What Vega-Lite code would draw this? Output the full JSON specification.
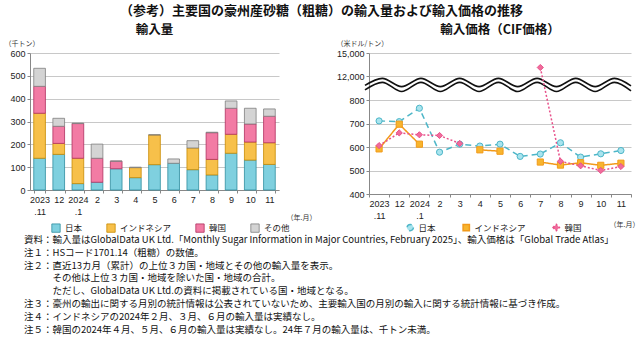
{
  "$schema": "https://vega.github.io/schema/vega-lite/v6.json",
  "background": "white",
  "padding": {"left": 4, "right": 4, "top": 4, "bottom": 0},
  "config": {
    "font": "Noto Sans CJK JP",
    "view": {"stroke": null},
    "axis": {
      "labelFont": "Liberation Sans",
      "labelFontSize": 9,
      "labelColor": "#222222",
      "labelOverlap": false,
      "gridColor": "#c8c8c8",
      "domainColor": "#888888",
      "tickColor": "#888888",
      "tickSize": 3,
      "titleFont": "Noto Sans CJK JP",
      "titleFontSize": 7,
      "titleFontWeight": "normal",
      "titleColor": "#333333"
    },
    "legend": {
      "labelFont": "Noto Sans CJK JP",
      "labelFontSize": 8.5,
      "labelColor": "#222222",
      "orient": "none",
      "direction": "horizontal"
    },
    "title": {"font": "Noto Sans CJK JP", "color": "#111111"}
  },
  "title": {
    "text": "（参考）主要国の豪州産砂糖（粗糖）の輸入量および輸入価格の推移",
    "fontSize": 13,
    "fontWeight": "bold",
    "anchor": "middle",
    "offset": 6
  },
  "datasets": {
    "vol": [
      {"m": "2023.11", "c": "日本", "v": 139}, {"m": "2023.11", "c": "インドネシア", "v": 197}, {"m": "2023.11", "c": "韓国", "v": 118}, {"m": "2023.11", "c": "その他", "v": 79},
      {"m": "12", "c": "日本", "v": 156}, {"m": "12", "c": "インドネシア", "v": 48}, {"m": "12", "c": "韓国", "v": 75}, {"m": "12", "c": "その他", "v": 35},
      {"m": "2024.1", "c": "日本", "v": 28}, {"m": "2024.1", "c": "インドネシア", "v": 111}, {"m": "2024.1", "c": "韓国", "v": 152}, {"m": "2024.1", "c": "その他", "v": 2},
      {"m": "2", "c": "日本", "v": 34}, {"m": "2", "c": "韓国", "v": 105}, {"m": "2", "c": "その他", "v": 62},
      {"m": "3", "c": "日本", "v": 93}, {"m": "3", "c": "韓国", "v": 33}, {"m": "3", "c": "その他", "v": 1},
      {"m": "4", "c": "日本", "v": 54}, {"m": "4", "c": "インドネシア", "v": 44}, {"m": "4", "c": "その他", "v": 2},
      {"m": "5", "c": "日本", "v": 111}, {"m": "5", "c": "インドネシア", "v": 130}, {"m": "5", "c": "その他", "v": 1},
      {"m": "6", "c": "日本", "v": 117}, {"m": "6", "c": "その他", "v": 19},
      {"m": "7", "c": "日本", "v": 89}, {"m": "7", "c": "インドネシア", "v": 95}, {"m": "7", "c": "その他", "v": 32},
      {"m": "8", "c": "日本", "v": 66}, {"m": "8", "c": "インドネシア", "v": 68}, {"m": "8", "c": "韓国", "v": 117}, {"m": "8", "c": "その他", "v": 2},
      {"m": "9", "c": "日本", "v": 161}, {"m": "9", "c": "インドネシア", "v": 83}, {"m": "9", "c": "韓国", "v": 114}, {"m": "9", "c": "その他", "v": 32},
      {"m": "10", "c": "日本", "v": 131}, {"m": "10", "c": "インドネシア", "v": 79}, {"m": "10", "c": "韓国", "v": 79}, {"m": "10", "c": "その他", "v": 69},
      {"m": "11", "c": "日本", "v": 112}, {"m": "11", "c": "インドネシア", "v": 95}, {"m": "11", "c": "韓国", "v": 116}, {"m": "11", "c": "その他", "v": 32}
    ],
    "price": [
      {"m": "2023.11", "c": "日本", "p": 711}, {"m": "12", "c": "日本", "p": 708}, {"m": "2024.1", "c": "日本", "p": 765}, {"m": "2", "c": "日本", "p": 578}, {"m": "3", "c": "日本", "p": 612}, {"m": "4", "c": "日本", "p": 604}, {"m": "5", "c": "日本", "p": 612}, {"m": "6", "c": "日本", "p": 560}, {"m": "7", "c": "日本", "p": 570}, {"m": "8", "c": "日本", "p": 618}, {"m": "9", "c": "日本", "p": 557}, {"m": "10", "c": "日本", "p": 571}, {"m": "11", "c": "日本", "p": 585},
      {"m": "2023.11", "c": "インドネシア", "p": 592}, {"m": "12", "c": "インドネシア", "p": 697}, {"m": "2024.1", "c": "インドネシア", "p": 612}, {"m": "2", "c": "インドネシア", "p": null}, {"m": "3", "c": "インドネシア", "p": null}, {"m": "4", "c": "インドネシア", "p": 588}, {"m": "5", "c": "インドネシア", "p": 582}, {"m": "6", "c": "インドネシア", "p": null}, {"m": "7", "c": "インドネシア", "p": 536}, {"m": "8", "c": "インドネシア", "p": 523}, {"m": "9", "c": "インドネシア", "p": 533}, {"m": "10", "c": "インドネシア", "p": 522}, {"m": "11", "c": "インドネシア", "p": 531},
      {"m": "2023.11", "c": "韓国", "p": 606}, {"m": "12", "c": "韓国", "p": 660}, {"m": "2024.1", "c": "韓国", "p": 652}, {"m": "2", "c": "韓国", "p": 649}, {"m": "3", "c": "韓国", "p": 615}, {"m": "4", "c": "韓国", "p": null}, {"m": "5", "c": "韓国", "p": null}, {"m": "6", "c": "韓国", "p": null}, {"m": "7", "c": "韓国", "p": 13150}, {"m": "8", "c": "韓国", "p": 539}, {"m": "9", "c": "韓国", "p": 520}, {"m": "10", "c": "韓国", "p": 500}, {"m": "11", "c": "韓国", "p": 517}
    ],
    "wave": [
      {"wl": "upper", "wx": -0.2, "wy": 862}, {"wl": "upper", "wx": 0.66, "wy": 892}, {"wl": "upper", "wx": 1.62, "wy": 857}, {"wl": "upper", "wx": 2.58, "wy": 892}, {"wl": "upper", "wx": 3.54, "wy": 857}, {"wl": "upper", "wx": 4.5, "wy": 892}, {"wl": "upper", "wx": 5.46, "wy": 857}, {"wl": "upper", "wx": 6.42, "wy": 892}, {"wl": "upper", "wx": 7.38, "wy": 857}, {"wl": "upper", "wx": 8.34, "wy": 892}, {"wl": "upper", "wx": 9.3, "wy": 857}, {"wl": "upper", "wx": 10.26, "wy": 892}, {"wl": "upper", "wx": 11.22, "wy": 857}, {"wl": "upper", "wx": 12.18, "wy": 892}, {"wl": "upper", "wx": 13.0, "wy": 860},
      {"wl": "lower", "wx": -0.2, "wy": 843}, {"wl": "lower", "wx": 0.66, "wy": 875}, {"wl": "lower", "wx": 1.62, "wy": 836}, {"wl": "lower", "wx": 2.58, "wy": 875}, {"wl": "lower", "wx": 3.54, "wy": 836}, {"wl": "lower", "wx": 4.5, "wy": 875}, {"wl": "lower", "wx": 5.46, "wy": 836}, {"wl": "lower", "wx": 6.42, "wy": 875}, {"wl": "lower", "wx": 7.38, "wy": 836}, {"wl": "lower", "wx": 8.34, "wy": 875}, {"wl": "lower", "wx": 9.3, "wy": 836}, {"wl": "lower", "wx": 10.26, "wy": 875}, {"wl": "lower", "wx": 11.22, "wy": 836}, {"wl": "lower", "wx": 12.18, "wy": 875}, {"wl": "lower", "wx": 13.0, "wy": 839}
    ]
  },
  "vconcat": [
    {
      "title": {
        "text": [
          "資料：輸入量はGlobalData UK Ltd.「Monthly Sugar Information in Major Countries, February 2025」、輸入価格は「Global Trade Atlas」",
          "注１：HSコード1701.14（粗糖）の数値。",
          "注２：直近13カ月（累計）の上位３カ国・地域とその他の輸入量を表示。",
          "\u200b\u3000\u3000\u3000その他は上位３カ国・地域を除いた国・地域の合計。",
          "\u200b\u3000\u3000\u3000ただし、GlobalData UK Ltd.の資料に掲載されている国・地域となる。",
          "注３：豪州の輸出に関する月別の統計情報は公表されていないため、主要輸入国の月別の輸入に関する統計情報に基づき作成。",
          "注４：インドネシアの2024年２月、３月、６月の輸入量は実績なし。",
          "注５：韓国の2024年４月、５月、６月の輸入量は実績なし。24年７月の輸入量は、千トン未満。"
        ],
        "orient": "bottom",
        "anchor": "start",
        "fontSize": 9.5,
        "lineHeight": 12.8,
        "fontWeight": "normal",
        "color": "#111111",
        "dx": 20,
        "offset": 1
      },
      "spacing": 20,
      "resolve": {
        "scale": {"fill": "independent", "stroke": "independent", "shape": "independent", "strokeDash": "independent"},
        "legend": {"fill": "independent", "stroke": "independent", "shape": "independent", "strokeDash": "independent"}
      },
      "hconcat": [
        {
          "width": 249,
          "height": 137,
          "title": {"text": "輸入量", "fontSize": 12.5, "fontWeight": "bold", "offset": 3},
          "data": {"name": "vol"},
          "transform": [{"calculate": "indexof(['日本','インドネシア','韓国','その他'], datum.c)", "as": "o"}],
          "mark": {"type": "bar", "strokeWidth": 0.8},
          "encoding": {
            "x": {
              "field": "m", "type": "ordinal", "sort": null,
              "scale": {"paddingInner": 0.39, "paddingOuter": 0.195},
              "axis": {
                "title": "（年.月）", "labelAngle": 0, "tickBand": "extent", "grid": false,
                "labelExpr": "datum.value == '2023.11' ? ['2023', '.11'] : datum.value == '2024.1' ? ['2024', '.1'] : datum.value",
                "labelLineHeight": 12, "labelPadding": 2,
                "titleX": 256, "titleY": 27, "titleAlign": "left", "titleBaseline": "middle"
              }
            },
            "y": {
              "field": "v", "type": "quantitative", "stack": "zero",
              "scale": {"domain": [0, 600]},
              "axis": {
                "values": [0, 100, 200, 300, 400, 500, 600],
                "title": "（千トン）", "titleAngle": 0, "titleX": -26, "titleY": -10, "titleAlign": "left", "titleBaseline": "middle"
              }
            },
            "fill": {
              "field": "c", "type": "nominal",
              "scale": {"domain": ["日本", "インドネシア", "韓国", "その他"], "range": ["#7fd0df", "#f7c04a", "#f27ba4", "#d4d4d4"]},
              "legend": {"title": null, "symbolType": "square", "symbolSize": 70, "symbolStrokeWidth": 0.8, "legendX": 21, "legendY": 170, "columnPadding": 22}
            },
            "stroke": {
              "field": "c", "type": "nominal",
              "scale": {"domain": ["日本", "インドネシア", "韓国", "その他"], "range": ["#2f8ea0", "#c88a00", "#b03060", "#7f7f7f"]},
              "legend": {"title": null, "symbolType": "square", "symbolSize": 70, "symbolStrokeWidth": 0.8, "legendX": 21, "legendY": 170, "columnPadding": 22}
            },
            "order": {"field": "o", "type": "quantitative"}
          }
        },
        {
          "width": 262,
          "height": 141,
          "title": {"text": "輸入価格（CIF価格）", "fontSize": 12.5, "fontWeight": "bold", "offset": 3},
          "resolve": {"scale": {"x": "independent"}},
          "layer": [
            {
              "data": {"name": "wave"},
              "mark": {"type": "line", "interpolate": "monotone", "stroke": "#111111", "strokeWidth": 1.6},
              "encoding": {
                "x": {"field": "wx", "type": "quantitative", "scale": {"domain": [0, 13], "nice": false, "zero": false}, "axis": null},
                "y": {
                  "field": "wy", "type": "quantitative",
                  "scale": {"domain": [400, 1000], "nice": false, "zero": false},
                  "axis": {
                    "values": [400, 500, 600, 700, 800, 900, 1000],
                    "labelExpr": "datum.value == 900 ? '12,000' : datum.value == 1000 ? '15,000' : datum.label",
                    "title": "（米ドル/トン）", "titleAngle": 0, "titleX": -33, "titleY": -10, "titleAlign": "left", "titleBaseline": "middle"
                  }
                },
                "detail": {"field": "wl", "type": "nominal"}
              }
            },
            {
              "data": {"name": "price"},
              "transform": [{"calculate": "datum.p == null ? null : (datum.p > 1000 ? 900 + (datum.p - 12000) / 30 : datum.p)", "as": "yv"}],
              "layer": [
                {
                  "mark": {"type": "line", "strokeWidth": 1.5, "invalid": "break-paths-show-domains"},
                  "encoding": {
                    "x": {
                      "field": "m", "type": "ordinal", "sort": null, "bandPosition": 0.5,
                      "scale": {"type": "band", "paddingInner": 0, "paddingOuter": 0},
                      "axis": {
                        "title": "（年.月）", "labelAngle": 0, "tickBand": "extent", "grid": false,
                        "labelExpr": "datum.value == '2023.11' ? ['2023', '.11'] : datum.value == '2024.1' ? ['2024', '.1'] : datum.value",
                        "labelLineHeight": 12, "labelPadding": 2,
                        "titleX": 240, "titleY": 30, "titleAlign": "left", "titleBaseline": "middle"
                      }
                    },
                    "y": {
                      "field": "yv", "type": "quantitative",
                      "axis": {
                        "values": [400, 500, 600, 700, 800, 900, 1000],
                        "labelExpr": "datum.value == 900 ? '12,000' : datum.value == 1000 ? '15,000' : datum.label",
                        "title": "（米ドル/トン）", "titleAngle": 0, "titleX": -33, "titleY": -10, "titleAlign": "left", "titleBaseline": "middle"
                      }
                    },
                    "stroke": {
                      "field": "c", "type": "nominal",
                      "scale": {"domain": ["日本", "インドネシア", "韓国"], "range": ["#4db6c8", "#f29a1a", "#e8508a"]},
                      "legend": {"title": null, "symbolSize": 40, "legendX": 37, "legendY": 170, "columnPadding": 24}
                    },
                    "strokeDash": {
                      "field": "c", "type": "nominal",
                      "scale": {"domain": ["日本", "インドネシア", "韓国"], "range": [[6, 4], [1, 0], [2, 2]]},
                      "legend": null
                    }
                  }
                },
                {
                  "mark": {"type": "point", "filled": false, "size": 38, "strokeWidth": 1, "opacity": 1, "invalid": "filter"},
                  "encoding": {
                    "x": {"field": "m", "type": "ordinal", "sort": null, "bandPosition": 0.5},
                    "y": {
                      "field": "yv", "type": "quantitative",
                      "axis": {
                        "values": [400, 500, 600, 700, 800, 900, 1000],
                        "labelExpr": "datum.value == 900 ? '12,000' : datum.value == 1000 ? '15,000' : datum.label",
                        "title": "（米ドル/トン）", "titleAngle": 0, "titleX": -33, "titleY": -10, "titleAlign": "left", "titleBaseline": "middle"
                      }
                    },
                    "stroke": {"field": "c", "type": "nominal", "legend": {"title": null, "symbolSize": 40, "legendX": 37, "legendY": 170, "columnPadding": 24}},
                    "fill": {
                      "field": "c", "type": "nominal",
                      "scale": {"domain": ["日本", "インドネシア", "韓国"], "range": ["#a9e4ee", "#f7b52e", "#f06c9b"]},
                      "legend": {"title": null, "symbolSize": 40, "legendX": 37, "legendY": 170, "columnPadding": 24}
                    },
                    "shape": {
                      "field": "c", "type": "nominal",
                      "scale": {"domain": ["日本", "インドネシア", "韓国"], "range": ["circle", "square", "diamond"]},
                      "legend": {"title": null, "symbolSize": 40, "legendX": 37, "legendY": 170, "columnPadding": 24}
                    }
                  }
                }
              ]
            }
          ]
        }
      ]
    }
  ]
}
